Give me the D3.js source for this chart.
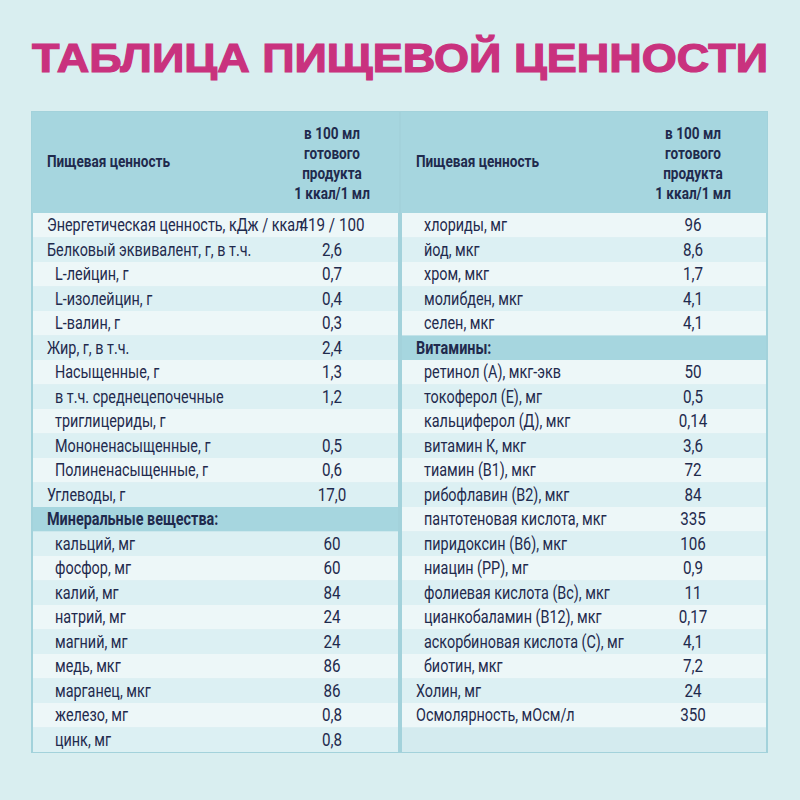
<!DOCTYPE html>
<html><head><meta charset="utf-8">
<script src="https://cdn.jsdelivr.net/npm/d3@7"></script>
<style>body{margin:0;background:#d9eef0}</style>
</head><body>
<svg id="canvas" width="800" height="800"></svg>
<script>
(function () {
    // rows: [label, value, level]  level 0 = plain, 1 = indented, 2 = section header, 3 = two-line, 4 = empty
    var leftRows = [
        ["Энергетическая ценность, кДж / ккал", "419 / 100", 0],
        ["Белковый эквивалент, г, в т.ч.", "2,6", 0],
        ["L-лейцин, г", "0,7", 1],
        ["L-изолейцин, г", "0,4", 1],
        ["L-валин, г", "0,3", 1],
        ["Жир, г, в т.ч.", "2,4", 0],
        ["Насыщенные, г", "1,3", 1],
        ["в т.ч. среднецепочечные|триглицериды, г", "1,2", 3],
        ["Мононенасыщенные, г", "0,5", 1],
        ["Полиненасыщенные, г", "0,6", 1],
        ["Углеводы, г", "17,0", 0],
        ["Минеральные вещества:", "", 2],
        ["кальций, мг", "60", 1],
        ["фосфор, мг", "60", 1],
        ["калий, мг", "84", 1],
        ["натрий, мг", "24", 1],
        ["магний, мг", "24", 1],
        ["медь, мкг", "86", 1],
        ["марганец, мкг", "86", 1],
        ["железо, мг", "0,8", 1],
        ["цинк, мг", "0,8", 1]
    ];
    var rightRows = [
        ["хлориды, мг", "96", 1],
        ["йод, мкг", "8,6", 1],
        ["хром, мкг", "1,7", 1],
        ["молибден, мкг", "4,1", 1],
        ["селен, мкг", "4,1", 1],
        ["Витамины:", "", 2],
        ["ретинол (А), мкг-экв", "50", 1],
        ["токоферол (Е), мг", "0,5", 1],
        ["кальциферол (Д), мкг", "0,14", 1],
        ["витамин К, мкг", "3,6", 1],
        ["тиамин (В1), мкг", "72", 1],
        ["рибофлавин (В2), мкг", "84", 1],
        ["пантотеновая кислота, мкг", "335", 1],
        ["пиридоксин (В6), мкг", "106", 1],
        ["ниацин (РР), мг", "0,9", 1],
        ["фолиевая кислота (Вс), мкг", "11", 1],
        ["цианкобаламин (В12), мкг", "0,17", 1],
        ["аскорбиновая кислота (С), мг", "4,1", 1],
        ["биотин, мкг", "7,2", 1],
        ["Холин, мг", "24", 0],
        ["Осмолярность, мОсм/л", "350", 0],
        ["", "", 4]
    ];
    var headLabel = "Пищевая ценность";
    var headValue = ["в 100 мл", "готового", "продукта", "1 ккал/1 мл"];
    var title = "ТАБЛИЦА ПИЩЕВОЙ ЦЕННОСТИ";

    var font = "Roboto, sans-serif";
    var ink = "#1f2a4d";
    var sx = 0.8; // condensed look
    var svg = d3.select("#canvas");

    // text helper: squeezed horizontally around its anchor point
    function txt(g, x, y, s, size, weight, anchor) {
        return g.append("text")
            .attr("transform", "translate(" + x + "," + y + ") scale(" + sx + ",1)")
            .attr("text-anchor", anchor || "start").attr("font-family", font)
            .attr("font-size", size).attr("font-weight", weight || "normal")
            .attr("fill", ink).text(s);
    }

    svg.append("rect").attr("width", 800).attr("height", 800).attr("fill", "#d9eef0");
    svg.append("text").attr("x", 400).attr("y", 72).attr("text-anchor", "middle")
        .attr("font-family", "'Liberation Sans', sans-serif").attr("font-weight", "bold")
        .attr("font-size", 40).attr("fill", "#c9327e")
        .attr("stroke", "#c9327e").attr("stroke-width", 1.2)
        .attr("textLength", 736).attr("lengthAdjust", "spacingAndGlyphs").text(title);

    var y = d3.scaleBand().domain(d3.range(22)).range([213, 752]);

    function panel(rows, x0, x1, vx) {
        var g = svg.append("g");
        g.append("rect").attr("x", x0).attr("y", 112).attr("width", x1 - x0).attr("height", 640)
            .attr("fill", "#d4ebef").attr("stroke", "#a3d2db").attr("stroke-width", 2);
        g.append("rect").attr("x", x0).attr("y", 112).attr("width", x1 - x0).attr("height", 101)
            .attr("fill", "#a6d6df");
        txt(g, x0 + 15, 167, headLabel, 17, "bold");
        headValue.forEach(function (d, i) { txt(g, vx, 139 + i * 20, d, 17, "bold", "middle"); });

        var slot = 0;
        rows.forEach(function (r) {
            var n = r[2] === 3 ? 2 : 1;
            for (var k = 0; k < n; k++) {
                var s = slot + k;
                var fill = r[2] === 2 ? "#a6d6df" : r[2] === 4 ? "#d4ebef" : (s % 2 === 0 ? "#edf7f8" : "#dcf0f3");
                g.append("rect").attr("x", x0 + 1).attr("y", y(s)).attr("width", x1 - x0 - 2)
                    .attr("height", y.bandwidth()).attr("fill", fill);
            }
            var lx = x0 + (r[2] === 1 || r[2] === 3 ? 23 : 15);
            r[0].split("|").forEach(function (t, i) {
                txt(g, lx, y(slot + i) + y.bandwidth() / 2 + 6, t, 18, r[2] === 2 ? "bold" : "normal");
            });
            txt(g, vx, y(slot) + y.bandwidth() / 2 + 6, r[1], 19, "normal", "middle");
            slot += n;
        });
    }

    panel(leftRows, 32, 399, 332);
    panel(rightRows, 401, 767, 693);
})();
</script>
</body></html>
